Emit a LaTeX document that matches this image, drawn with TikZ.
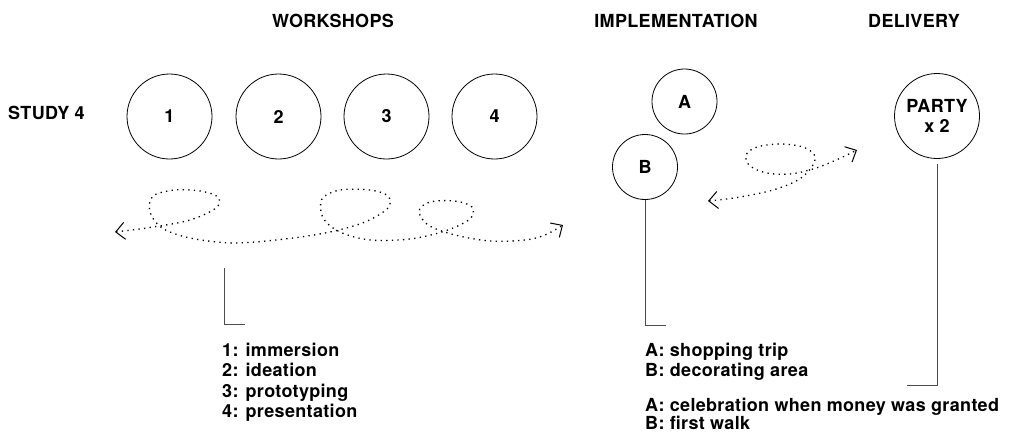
\documentclass[tikz,border=0pt]{standalone}
\usepackage{fontspec}
\setmainfont{TeX Gyre Heros}[LetterSpace=1.8]
\usetikzlibrary{arrows.meta}

\begin{document}
\begin{tikzpicture}[x=1pt,y=-1pt,
        every node/.style={font=\fontsize{18}{20.5}\selectfont\bfseries},
        phase/.style={circle,draw,line width=0.8pt,inner sep=0pt,align=center},
        heading/.style={anchor=base},
        bracket/.style={draw=black!70,line width=0.9pt},
        wiggle/.style={line width=1.3pt,dash pattern=on 1.3pt off 4.3pt,
            {Straight Barb[length=9pt,width=17pt,line width=1pt]}-{Straight Barb[length=9pt,width=17pt,line width=1pt]}},
        legend/.style={anchor=north west,align=left,inner sep=0pt}]
    \useasboundingbox (0,0) rectangle (1011,437);

    % headings
    \node[heading] (hdWork) at (333,27.5) {WORKSHOPS};
    \node[heading] (hdImpl) at (676,27.5) {IMPLEMENTATION};
    \node[heading] (hdDeli) at (914,27.5) {DELIVERY};
    \node[anchor=base west,inner sep=0pt] (study) at (8,119.5) {STUDY 4};

    % workshops
    \node[phase,minimum size=85pt] (ws1) at (169.5,116.5) {1};
    \node[phase,minimum size=85pt] (ws2) at (278.5,116.5) {2};
    \node[phase,minimum size=85pt] (ws3) at (386.5,116.5) {3};
    \node[phase,minimum size=85pt] (ws4) at (494.5,116.5) {4};

    % implementation and delivery
    \node[phase,minimum size=65pt] (impA) at (684.5,101.5) {A};
    \node[phase,minimum size=65pt] (impB) at (645,167) {B};
    \node[phase,minimum size=85pt] (party) at (937,116) {PARTY\\x 2};

    % loops
    \draw[wiggle] plot[smooth,tension=0.55] coordinates {(115,232) (153,227) (190,220) (216,208)
        (218,197) (200,191) (175,190) (153,196) (150,212) (162,228) (190,238) (233,243)
        (285,239) (330,232) (365,222) (388,208) (388,196) (370,190) (340,190) (322,199)
        (323,218) (340,232) (370,240) (410,239) (445,231) (470,219) (472,207) (455,201)
        (430,202) (419,211) (428,225) (455,235) (490,241) (525,240) (545,235) (563,225)};
    \draw[wiggle] plot[smooth,tension=0.55] coordinates {(708,201) (740,197) (773,190) (798,180)
        (811,168) (815,156) (803,147) (780,144) (757,147) (746,155) (750,166) (767,173)
        (790,174) (813,169) (834,161) (857,150)};

    % brackets
    \coordinate (wsTop) at (224,268);
    \coordinate (bCorner) at (0,325);
    \coordinate (pCorner) at (0,385);
    \draw[bracket] (wsTop) -- ++(0,56) -- ++(21,0);
    \draw[bracket] (impB.south) -- (impB.south |- bCorner) -- ++(21,0);
    \draw[bracket] ([yshift=-5pt]party.south) -- (party.south |- pCorner) -- ++(-30,0);

    % legends
    \node[legend] (lgWork) at (222,342.5) {1: immersion\\2: ideation\\3: prototyping\\4: presentation};
    \node[legend] (lgImpl) at (645,342.5) {A: shopping trip\\B: decorating area};
    \node[legend,font=\fontsize{18}{18.5}\selectfont\bfseries] (lgDeli) at (645,397.5)
        {A: celebration when money was granted\\B: first walk};
\end{tikzpicture}
\end{document}
